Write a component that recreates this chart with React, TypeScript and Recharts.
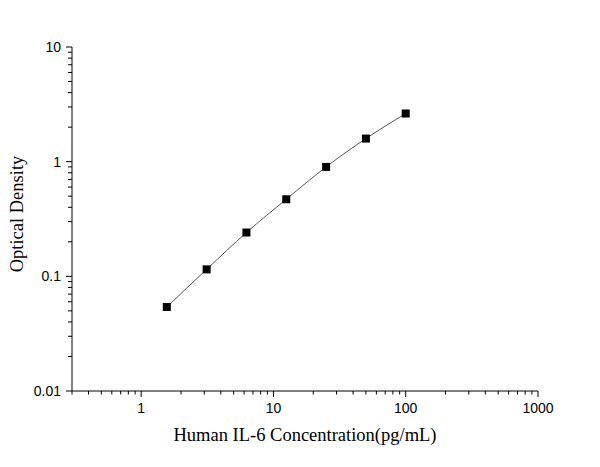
import { Line, LineChart, XAxis, YAxis } from "recharts";

/** IL-6 ELISA standard curve, log-log. */

const concentrations = [1.5625, 3.125, 6.25, 12.5, 25, 50, 100];
const opticalDensity = [0.054, 0.115, 0.241, 0.47, 0.9, 1.59, 2.63];

const xMajorTicks = [1, 10, 100, 1000];
const yMajorTicks = [0.01, 0.1, 1, 10];
const xDomain = [0.3, 1000];
const yDomain = [0.01, 10];

const data = concentrations.map((c, i) => ({ conc: c, od: opticalDensity[i] }));

// decade ticks plus the 2..9 minors in between, clipped to the domain
function logTicks(majors: number[], domain: number[]) {
  const out: number[] = [];
  for (const m of majors) {
    for (let k = 1; k <= 9; k++) {
      const v = (m / 10) * k;
      if (v >= domain[0] - 1e-9 && v <= domain[1] + 1e-9) out.push(v);
    }
  }
  out.push(majors[majors.length - 1]);
  return Array.from(new Set(out.map((v) => +v.toPrecision(6))));
}

const isMajor = (v: number, majors: number[]) =>
  majors.some((m) => Math.abs(v - m) / m < 1e-6);

const TICK_FONT = "'Liberation Sans', Arial, sans-serif";
const TITLE_FONT = "'Liberation Serif', 'Times New Roman', serif";

function XTick({ x, y, payload }: any) {
  const major = isMajor(payload.value, xMajorTicks);
  return (
    <g>
      <line x1={x} x2={x} y1={y} y2={y + (major ? 6 : 3.5)} stroke="#000" strokeWidth={1} />
      {major && (
        <text x={x} y={y + 22} textAnchor="middle" fontFamily={TICK_FONT} fontSize={14} fill="#000">
          {payload.value}
        </text>
      )}
    </g>
  );
}

function YTick({ x, y, payload }: any) {
  const major = isMajor(payload.value, yMajorTicks);
  return (
    <g>
      <line x1={x - (major ? 6 : 4)} x2={x} y1={y} y2={y} stroke="#000" strokeWidth={1} />
      {major && (
        <text x={x - 11} y={y} dy="0.36em" textAnchor="end" fontFamily={TICK_FONT} fontSize={14} fill="#000">
          {payload.value}
        </text>
      )}
    </g>
  );
}

function SquareDot({ cx, cy, index }: any) {
  return <rect key={`dot-${index}`} x={cx - 4} y={cy - 4} width={8} height={8} fill="#000" />;
}

export default function App() {
  return (
    <div style={{ position: "absolute", left: 0, top: 0, width: 600, height: 467, background: "#fff" }}>
      <LineChart width={600} height={467} data={data} margin={{ top: 47, right: 62, bottom: 0, left: 12 }}>
        <XAxis
          dataKey="conc"
          type="number"
          scale="log"
          domain={xDomain}
          allowDataOverflow
          ticks={logTicks(xMajorTicks, xDomain)}
          interval={0}
          tick={<XTick />}
          tickLine={false}
          tickSize={0}
          tickMargin={0}
          height={76}
          axisLine={{ stroke: "#000", strokeWidth: 1 }}
          label={{
            content: ({ viewBox }: any) => (
              <text
                x={viewBox.x + viewBox.width / 2}
                y={viewBox.y + 50}
                textAnchor="middle"
                fontFamily={TITLE_FONT}
                fontSize={18.5}
                fill="#000"
              >
                Human IL-6 Concentration(pg/mL)
              </text>
            ),
          }}
        />
        <YAxis
          dataKey="od"
          type="number"
          scale="log"
          domain={yDomain}
          allowDataOverflow
          ticks={logTicks(yMajorTicks, yDomain)}
          interval={0}
          tick={<YTick />}
          tickLine={false}
          tickSize={0}
          tickMargin={0}
          width={60}
          axisLine={{ stroke: "#000", strokeWidth: 1 }}
          label={{
            content: ({ viewBox }: any) => {
              const cy = viewBox.y + viewBox.height / 2 - 5;
              return (
                <text
                  x={23}
                  y={cy}
                  transform={`rotate(-90, 23, ${cy})`}
                  textAnchor="middle"
                  fontFamily={TITLE_FONT}
                  fontSize={18.5}
                  fill="#000"
                >
                  Optical Density
                </text>
              );
            },
          }}
        />
        <Line
          dataKey="od"
          type="monotone"
          stroke="#555"
          strokeWidth={1}
          dot={SquareDot}
          activeDot={false}
          isAnimationActive={false}
        />
      </LineChart>
    </div>
  );
}
